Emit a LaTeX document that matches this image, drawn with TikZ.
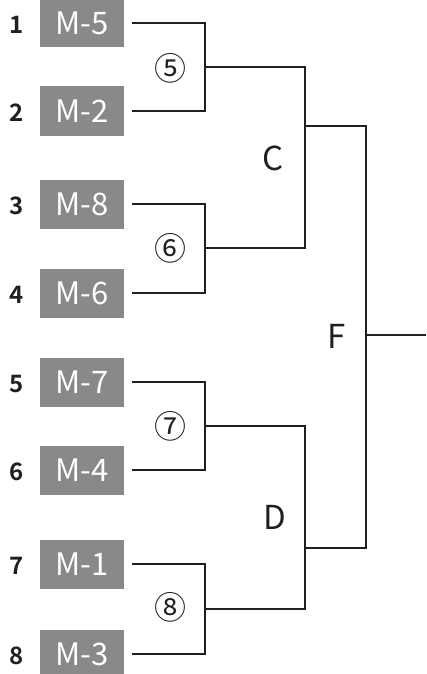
\documentclass[tikz,border=0pt]{standalone}
\usepackage{fontspec}
\setmainfont{Noto Sans CJK JP}
\newfontfamily\jpbold{Noto Sans CJK JP Bold}
\definecolor{boxgray}{HTML}{898989}
\definecolor{ink}{HTML}{231F20}
\begin{document}
\begin{tikzpicture}[x=1pt,y=-1pt,
  entry/.style={fill=boxgray,text=white,minimum width=84pt,minimum height=49pt,inner sep=0pt,font=\fontsize{31}{31}\selectfont},
  seed/.style={text=ink,inner sep=0pt,font=\jpbold\fontsize{24}{24}\selectfont},
  round/.style={text=ink,inner sep=0pt,font=\fontsize{32}{32}\selectfont},
  stage/.style={text=ink,inner sep=0pt,font=\fontsize{33}{33}\selectfont},
  wire/.style={draw=ink,line width=2pt}]
\useasboundingbox (0,0) rectangle (426,674);
% entries
\foreach \i/\m/\y in {1/5/23,2/2/111,3/8/204,4/6/293,5/7/382,6/4/470,7/1/564,8/3/654}{
  \node[entry] (b\i) at (82,\y) {M-\m};
  \node[seed] (s\i) at (17,\y+2) {\i};
}
% junction coordinates
\coordinate (r1) at (205,67);
\coordinate (r2) at (205,248);
\coordinate (r3) at (205,426);
\coordinate (r4) at (205,609);
\coordinate (cC) at (305,126);
\coordinate (dD) at (305,548);
\coordinate (fF) at (366,335);
\coordinate (win) at (426,335);
% round 1
\draw[wire] ([xshift=8pt]b1.east) -| (r1) |- ([xshift=8pt]b2.east);
\draw[wire] ([xshift=8pt]b3.east) -| (r2) |- ([xshift=8pt]b4.east);
\draw[wire] ([xshift=8pt]b5.east) -| (r3) |- ([xshift=8pt]b6.east);
\draw[wire] ([xshift=8pt]b7.east) -| (r4) |- ([xshift=8pt]b8.east);
% round 2
\draw[wire] (r1) -| (cC) |- (r2);
\draw[wire] (r3) -| (dD) |- (r4);
% final
\draw[wire] (cC) -| (fF) |- (dD);
\draw[wire] (fF) -- (win);
% labels
\node[round] (n5) at (170,68) {⑤};
\node[round] (n6) at (170,248) {⑥};
\node[round] (n7) at (170,426) {⑦};
\node[round] (n8) at (170,607) {⑧};
\node[stage] (lc) at (273,158) {C};
\node[stage] (ld) at (275,517) {D};
\node[stage] (lf) at (337,336) {F};
\end{tikzpicture}
\end{document}
